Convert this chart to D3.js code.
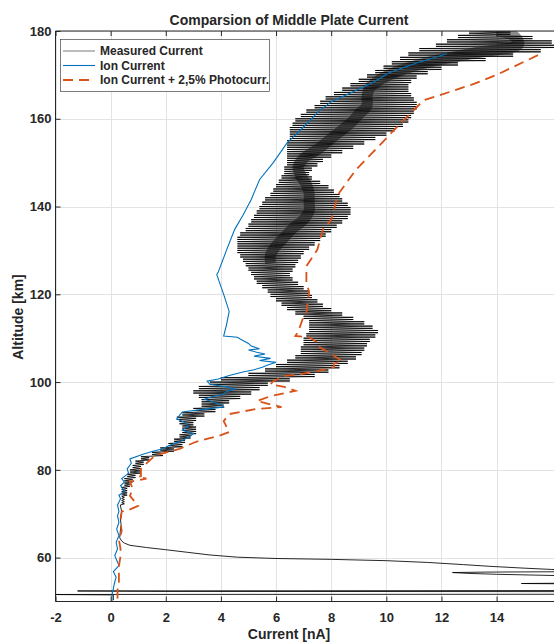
<!DOCTYPE html>
<html>
<head>
<meta charset="utf-8">
<script src="https://cdn.jsdelivr.net/npm/d3@7"></script>
<style>
  body { margin: 0; background: #fff; }
  svg text { font-family: "Liberation Sans", Arial, Helvetica, sans-serif; font-weight: bold; fill: #262626; }
</style>
</head>
<body>
<div id="chart"></div>
<script>
// altitude rows for the spin-modulated measured current (km)
var measAlt = [180,179,178,177,176,175,174,173,172,171,170,169,168,167,166,165,164,163,162,161,
  160,159,158,157,156,155,154,153,152,151,150,149,148,147,146,145,144,143,142,141,
  140,139,138,137,136,135,134,133,132,131,130,129,128,127,126,125,124,123,122,121,
  120,119,118,117,116,115,114,113,112,111,110,109,108,107,106,105,104,103,102,101,
  100,99,98,97,96,95,94,93,92,91,90,89,88,87,86,85,84,83,82,81,
  80,79,78,77,76,75,74,73];
// left edge of each oscillation (nA)
var measLo = [13.0,12.6,12.2,11.8,11.2,10.8,10.5,10.2,9.9,9.6,9.3,9.0,8.7,8.4,8.1,7.8,7.6,7.4,7.1,6.9,
  6.7,6.6,6.5,6.5,6.5,6.4,6.4,6.4,6.4,6.4,6.4,6.3,6.3,6.2,6.1,6.0,5.9,5.8,5.6,5.5,
  5.4,5.3,5.2,5.1,5.0,4.9,4.7,4.6,4.6,4.6,4.6,4.7,4.8,4.9,5.0,5.1,5.2,5.3,5.5,5.7,
  5.8,6.0,6.2,6.4,6.7,7.0,7.2,7.2,7.2,7.1,7.0,7.0,6.9,6.9,6.7,6.4,6.0,5.6,5.0,4.0,
  3.6,3.2,3.0,3.2,3.3,3.3,3.0,2.6,2.4,2.5,2.6,2.6,2.5,2.3,2.1,1.8,1.5,1.1,0.9,0.8,
  0.7,0.6,0.5,0.5,0.4,0.4,0.4,0.4];
// right edge of each oscillation (nA)
var measHi = [14.5,15.3,16.0,16.3,15.6,14.6,13.6,12.6,12.0,11.5,11.1,10.9,10.8,10.8,10.9,11.0,11.1,11.1,11.0,10.9,
  10.8,10.6,10.3,10.0,9.6,9.2,8.8,8.4,8.0,7.7,7.5,7.3,7.2,7.3,7.6,7.9,8.1,8.3,8.4,8.6,
  8.7,8.7,8.6,8.4,8.2,8.0,7.8,7.6,7.4,7.2,7.0,6.9,6.8,6.7,6.6,6.5,6.6,6.8,7.0,7.2,
  7.3,7.5,7.7,8.0,8.4,8.8,9.2,9.5,9.7,9.6,9.4,9.3,9.2,9.1,8.9,8.6,8.3,7.9,7.4,6.5,
  5.7,5.4,5.1,4.7,4.3,4.1,3.8,3.4,3.1,3.0,3.1,3.1,2.9,2.7,2.6,2.3,1.9,1.4,1.2,1.1,
  1.1,0.9,0.8,0.7,0.6,0.6,0.5,0.5];
// dense (dark) part of the measured band
var coreAlt = [180,179,177,175,173,171,169,167,165,163,161,159,157,155,153,151,149,147,145,143,141,139,137,135,133,131,129,127];
var coreX = [14.0,14.6,14.8,13.2,11.6,10.5,9.8,9.4,9.3,9.3,9.0,8.7,8.3,7.9,7.5,7.0,6.8,6.9,7.1,7.2,7.2,7.2,7.0,6.6,6.3,6.0,5.8,5.8];
// lower part of the measured current, incl. the excursions near the bottom
var tailAlt = [72,70.5,69,67.5,66,64.5,63.8,63.3,62.8,62.3,61.8,61.2,60.6,60.1,59.8,59.6,59.3,58.9,58.4,58.0,57.6,57.3,57.0,
  56.8,56.7,56.6,56.4,56.2,56.0,55.8,54.2,54.1,54.0,52.5,52.4,52.35,52.3,52.25,51.65,51.6,51.5,51.0,50.3];
var tailX = [0.35,0.4,0.35,0.38,0.35,0.33,0.4,0.5,0.7,1.3,2.0,2.8,3.6,4.6,6.0,8.0,10.0,11.5,12.8,13.8,15.0,16.0,17.0,
  17.0,13.6,12.4,13.0,14.0,15.5,17.0,17.0,14.9,17.0,17.0,-1.2,0.5,2.0,17.0,17.0,-2.5,0.1,0.1,0.1];

// ion current
var ionAlt = [174.8,172.7,170.5,168.2,165.9,163.9,161.4,157.5,154.5,150,146.1,141.6,138,134.8,130,125,124.5,120,116.1,113,
  110.5,110.2,109.8,108.8,108.2,107.6,107.3,106.8,106.4,105.9,105.4,104.9,104.5,103.9,103.4,102.8,102.3,101.5,100.7,100.2,
  99.5,98.9,98.4,97.8,97.3,96.7,96.1,95.5,94.9,94.3,93.9,93.2,92.4,91.6,90.8,90,89,88.3,87.7,87,
  86.4,85.5,84.8,84.2,83.6,82.5,81.5,80.2,79.2,78,77.2,76.4,75,74.2,73.4,72,70.5,69.5,68,66.5,
  65,63.5,62,60.5,58.2,56.8,55.5,54.5,53,51.5,50];
var ionX = [12.2,11.1,10.1,9.5,8.7,8.0,7.5,6.9,6.4,5.9,5.4,5.1,4.8,4.5,4.2,3.9,3.85,4.1,4.3,4.2,
  4.1,4.6,4.7,5.0,5.1,5.4,5.0,5.3,5.6,5.2,5.8,5.4,6.0,5.7,5.5,5.2,4.8,4.3,3.9,3.5,
  3.6,4.2,4.5,4.2,4.1,3.7,3.4,3.7,4.0,4.1,3.5,2.6,2.5,2.4,2.7,2.8,2.6,3.0,2.9,2.7,
  2.5,2.1,1.9,1.5,1.2,0.7,0.75,0.6,0.65,0.4,0.5,0.36,0.5,0.3,0.36,0.25,0.3,0.25,0.3,0.22,
  0.3,0.2,0.25,0.15,0.3,0.1,0.2,0.15,0.1,0.05,0.05];

// ion current + 2,5% photocurrent
var photoAlt = [174.5,170,168,165.5,164.3,163.9,162,158.2,153.6,148.4,143.2,141.6,137,134.8,130.2,126.4,124.1,122.7,120.5,115.9,
  115,111.4,110.5,110.2,109,108.2,106.8,104.8,104.2,103.4,102.5,101.8,101.4,100.2,99.5,98.9,98,96.8,96.1,95.7,
  94.3,93.9,92.7,91.1,88.6,87.7,86.4,84.8,83.2,80.9,80.2,78.6,78.4,78,77.3,75.7,74.1,71.8,70.7,70.5,
  68.2,66,64,62,60,58,56,54.5,52.5,50.7];
var photoX = [15.5,14.0,13.2,12.0,11.4,11.3,11.0,10.4,9.7,8.9,8.3,8.2,8.0,7.7,7.5,7.1,7.1,7.1,7.2,7.1,
  7.0,6.8,6.7,7.2,7.5,7.5,7.9,8.4,8.1,8.1,7.5,6.9,6.3,5.9,5.8,6.3,6.7,5.8,5.5,5.3,
  6.2,5.3,4.3,4.1,4.3,3.9,3.1,2.5,1.6,1.2,1.1,1.1,1.0,1.3,0.7,0.8,0.7,1.0,0.6,0.4,
  0.36,0.4,0.3,0.36,0.35,0.3,0.3,0.3,0.25,0.25];

var xTicks = [-2,0,2,4,6,8,10,12,14];
var yTicks = [60,80,100,120,140,160,180];

var W = 554, H = 643;
var padL = 55.5, padR = 560, padT = 31, padB = 601.5;

var svg = d3.select('#chart').append('svg').attr('width', W).attr('height', H);

var x = d3.scaleLinear().domain([-2, 16.3]).range([padL, padR]);
var y = d3.scaleLinear().domain([50, 180]).range([padB, padT]);

svg.append('defs').append('clipPath').attr('id', 'plotclip')
  .append('rect').attr('x', padL).attr('y', padT).attr('width', padR - padL).attr('height', padB - padT);

// grid
var grid = svg.append('g').attr('stroke', '#e3e3e3').attr('stroke-width', 1);
grid.selectAll('line.vx').data(xTicks).enter().append('line')
  .attr('x1', function(d) { return Math.round(x(d)) + 0.5; }).attr('x2', function(d) { return Math.round(x(d)) + 0.5; })
  .attr('y1', padT).attr('y2', padB);
grid.selectAll('line.hy').data(yTicks).enter().append('line')
  .attr('y1', function(d) { return Math.round(y(d)) + 0.5; }).attr('y2', function(d) { return Math.round(y(d)) + 0.5; })
  .attr('x1', padL).attr('x2', padR);

var plot = svg.append('g').attr('clip-path', 'url(#plotclip)');

// measured current: two spin periods per altitude row, swinging between the
// row's left and right edge, then the single-valued tail
var measPts = [];
measAlt.forEach(function(a, i) {
  measPts.push([measLo[i], a]);
  measPts.push([measHi[i], a - 0.25]);
  measPts.push([measLo[i], a - 0.5]);
  measPts.push([measHi[i], a - 0.75]);
});
tailAlt.forEach(function(a, i) { measPts.push([tailX[i], a]); });

var line = d3.line().x(function(d) { return x(d[0]); }).y(function(d) { return y(d[1]); });
var smooth = d3.line().curve(d3.curveCatmullRom).x(function(d) { return x(d[0]); }).y(function(d) { return y(d[1]); });

plot.append('path').datum(coreAlt.map(function(a, i) { return [coreX[i], a]; }))
  .attr('d', smooth).attr('fill', 'none').attr('stroke-linecap', 'butt')
  .attr('stroke', '#000').attr('stroke-width', 11).attr('stroke-opacity', 0.45);

plot.append('path').datum(measPts).attr('d', line).attr('fill', 'none')
  .attr('stroke', '#000').attr('stroke-width', 0.85).attr('stroke-linejoin', 'miter');

plot.append('path').datum(ionAlt.map(function(a, i) { return [ionX[i], a]; }))
  .attr('d', line).attr('fill', 'none').attr('stroke', '#0072BD').attr('stroke-width', 1.1);

plot.append('path').datum(photoAlt.map(function(a, i) { return [photoX[i], a]; }))
  .attr('d', line).attr('fill', 'none').attr('stroke', '#D95319').attr('stroke-width', 1.8)
  .attr('stroke-dasharray', '10,6');

// axes (MATLAB style: ticks inward, box)
var fmt = function(d) { return String(d); };
var ax = svg.append('g').attr('transform', 'translate(0,' + padB + ')')
  .call(d3.axisBottom(x).tickValues(xTicks).tickFormat(fmt).tickSizeInner(-5).tickSizeOuter(0).tickPadding(11));
var axTop = svg.append('g').attr('transform', 'translate(0,' + padT + ')')
  .call(d3.axisTop(x).tickValues(xTicks).tickSizeInner(-5).tickSizeOuter(0).tickFormat(''));
var ay = svg.append('g').attr('transform', 'translate(' + padL + ',0)')
  .call(d3.axisLeft(y).tickValues(yTicks).tickFormat(fmt).tickSizeInner(-5).tickSizeOuter(0).tickPadding(4));
[ax, axTop, ay].forEach(function(g) {
  g.select('.domain').attr('stroke', '#262626').attr('stroke-width', 1);
  g.selectAll('.tick line').attr('stroke', '#262626');
  g.selectAll('text').attr('font-size', 13).attr('fill', '#262626')
    .attr('font-family', '"Liberation Sans", Arial, sans-serif').attr('font-weight', 'bold');
});
ay.select('.domain').attr('d', 'M0,' + padT + 'V' + padB);
ax.select('.domain').attr('d', 'M' + padL + ',0H' + padR);
axTop.select('.domain').attr('d', 'M' + padL + ',0H' + padR);

// title and labels
svg.append('text').attr('x', 289).attr('y', 25).attr('text-anchor', 'middle').attr('font-size', 14)
  .text('Comparsion of Middle Plate Current');
svg.append('text').attr('x', 289).attr('y', 639).attr('text-anchor', 'middle').attr('font-size', 14)
  .text('Current [nA]');
svg.append('text').attr('transform', 'translate(23,317) rotate(-90)').attr('text-anchor', 'middle')
  .attr('font-size', 14).text('Altitude [km]');

// legend
var legendItems = [
  { label: 'Measured Current', color: '#555', width: 0.8, dash: null },
  { label: 'Ion Current', color: '#0072BD', width: 1.1, dash: null },
  { label: 'Ion Current + 2,5% Photocurr.', color: '#D95319', width: 1.8, dash: '10,6' }
];
var lg = svg.append('g');
lg.append('rect').attr('x', 60.5).attr('y', 39.5).attr('width', 209).attr('height', 52)
  .attr('fill', '#fff').attr('stroke', '#262626').attr('stroke-width', 0.6);
var li = lg.selectAll('g.item').data(legendItems).enter().append('g')
  .attr('transform', function(d, i) { return 'translate(0,' + (51 + i * 14.5) + ')'; });
li.append('line').attr('x1', 63).attr('x2', 95).attr('y1', 0).attr('y2', 0)
  .attr('stroke', function(d) { return d.color; }).attr('stroke-width', function(d) { return d.width; })
  .attr('stroke-dasharray', function(d) { return d.dash; });
li.append('text').attr('x', 100).attr('y', 0).attr('dy', '0.35em').attr('font-size', 12)
  .text(function(d) { return d.label; });
</script>
</body>
</html>
